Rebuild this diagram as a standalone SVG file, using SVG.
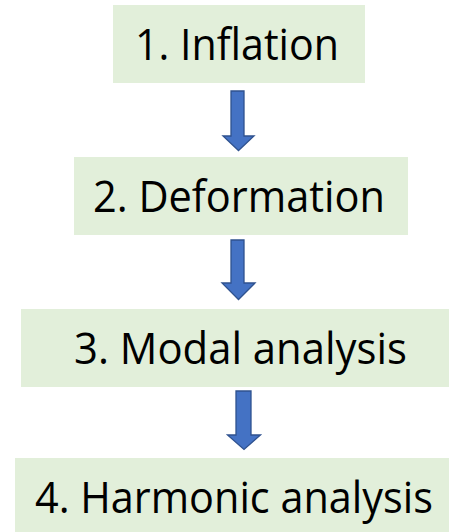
<svg xmlns="http://www.w3.org/2000/svg" width="449" height="532" viewBox="0 0 449 532">
<style>
.box{fill:#E2EFDA;}
.lbl{font-family:"Open Sans","Noto Sans","Liberation Sans",sans-serif;font-size:43px;fill:#000;}
.arr{fill:#4472C4;stroke:#2F528F;stroke-width:1.3;stroke-linejoin:miter;}
</style>
<rect width="449" height="532" fill="#fff"/>
<g id="node1"><rect class="box" x="113" y="5" width="252" height="78"/><text class="lbl" x="135" y="60" textLength="204" lengthAdjust="spacingAndGlyphs">1. Inflation</text></g>
<g id="node2"><rect class="box" x="74" y="157" width="334" height="78"/><text class="lbl" x="93" y="212" textLength="292" lengthAdjust="spacingAndGlyphs">2. Deformation</text></g>
<g id="node3"><rect class="box" x="21" y="309" width="428" height="78"/><text class="lbl" x="74" y="364" textLength="333" lengthAdjust="spacingAndGlyphs">3. Modal analysis</text></g>
<g id="node4"><rect class="box" x="15" y="458" width="434" height="74"/><text class="lbl" x="35" y="513" textLength="398" lengthAdjust="spacingAndGlyphs">4. Harmonic analysis</text></g>
<g id="connectors">
<path class="arr" d="M231,91 H244 V136 H254 L238.5,150.5 L223,136 H231 Z"/>
<path class="arr" d="M231,240 H244 V283 H255 L238.5,299.5 L222,283 H231 Z"/>
<path class="arr" d="M236,391 H251 V435 H260.5 L244,449.5 L227.5,435 H236 Z"/>
</g>
</svg>
